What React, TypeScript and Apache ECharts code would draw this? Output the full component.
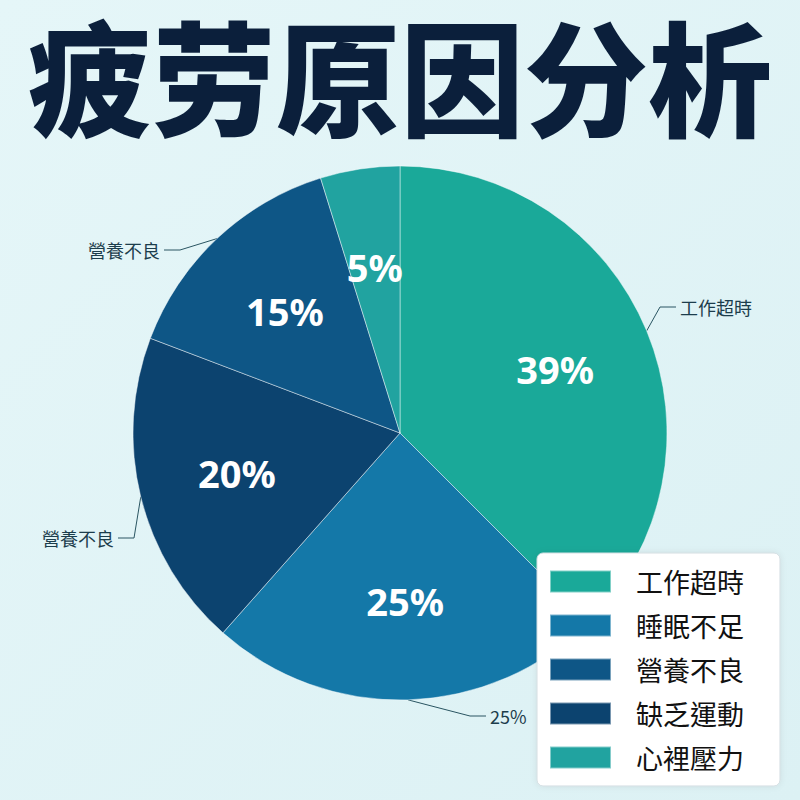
import React, { useEffect, useRef } from 'react';
import * as echarts from 'echarts';

const titleText = '疲劳原因分析';
const categories = ['工作超時', '睡眠不足', '缺乏運動', '營養不良', '心裡壓力'];
const values = [39, 25, 20, 15, 5];
const outerLabels = ['工作超時', '25%', '營養不良', '營養不良', ''];
const legendOrder = ['工作超時', '睡眠不足', '營養不良', '缺乏運動', '心裡壓力'];
const sliceColors = ['#1aa999', '#1478a8', '#0c436f', '#0e5686', '#21a3a0'];

// layout (pixel positions of the outer annotation labels)
const outerPos: any[] = [
  { x: 680, y: 307, align: 'left' },
  { x: 490, y: 716, align: 'left' },
  { x: 114, y: 538, align: 'right' },
  { x: 160, y: 250, align: 'right' },
  null,
];

export default function App() {
  const ref = useRef<HTMLDivElement>(null);
  useEffect(() => {
    if (!ref.current) return;
    const chart = echarts.init(ref.current, null, { renderer: 'svg' });
    const center = [400, 433];
    const R = 267;
    const baseData = categories.map((n, i) => ({ name: n, value: values[i] }));
    chart.setOption({
      animation: false,
      backgroundColor: new echarts.graphic.LinearGradient(0, 0, 1, 1, [
        { offset: 0, color: '#e5f6f8' },
        { offset: 1, color: '#dcf1f4' },
      ]),
      title: {
        text: titleText,
        left: 'center',
        top: 11,
        padding: 0,
        textStyle: {
          fontSize: 124,
          fontWeight: 900,
          color: '#0b1f3b',
          fontFamily: 'Noto Sans CJK SC',
        },
      },
      legend: {
        data: legendOrder,
        orient: 'vertical',
        left: 537,
        top: 553,
        height: 210,
        padding: [15, 36, 15, 12],
        itemWidth: 61,
        itemHeight: 22,
        itemGap: 17,
        icon: 'rect',
        selectedMode: false,
        backgroundColor: '#ffffff',
        borderColor: '#d3dde1',
        borderWidth: 1,
        borderRadius: 6,
        shadowBlur: 6,
        shadowColor: 'rgba(0,0,0,0.08)',
        textStyle: {
          fontSize: 27,
          color: '#111111',
          fontFamily: 'Noto Sans CJK TC',
          padding: [0, 0, 0, 20],
        },
      },
      series: [
        {
          type: 'pie',
          name: 'main',
          center,
          radius: [0, R],
          startAngle: 90,
          clockwise: true,
          avoidLabelOverlap: false,
          silent: true,
          data: baseData.map((d, i) => ({ ...d, itemStyle: { color: sliceColors[i] } })),
          itemStyle: { borderColor: 'rgba(255,255,255,0.45)', borderWidth: 1 },
          label: { show: false },
          labelLine: { show: false },
        },
        {
          type: 'pie',
          name: 'inner',
          center,
          radius: [63, R],
          startAngle: 90,
          clockwise: true,
          avoidLabelOverlap: false,
          silent: true,
          data: baseData,
          itemStyle: { color: 'rgba(0,0,0,0)' },
          label: {
            show: true,
            position: 'inside',
            formatter: (p: any) => `${values[p.dataIndex]}%`,
            color: '#ffffff',
            fontSize: 38,
            fontWeight: 'bold',
            fontFamily: 'Noto Sans',
          },
          labelLine: { show: false },
        },
        {
          type: 'pie',
          name: 'outer',
          center,
          radius: [0, R],
          startAngle: 90,
          clockwise: true,
          avoidLabelOverlap: false,
          silent: true,
          data: baseData.map((d, i) =>
            outerLabels[i]
              ? d
              : { ...d, label: { show: false }, labelLine: { show: false } }
          ),
          itemStyle: { color: 'rgba(0,0,0,0)' },
          label: {
            show: true,
            position: 'outside',
            formatter: (p: any) => outerLabels[p.dataIndex],
            color: '#1c3d4c',
            fontSize: 18,
            fontFamily: 'Noto Sans CJK TC',
          },
          labelLine: {
            show: true,
            length: 10,
            length2: 10,
            lineStyle: { color: '#2a5562', width: 1 },
          },
          labelLayout: (params: any) => {
            const pos = outerPos[params.dataIndex];
            if (!pos) return {};
            const dir = pos.align === 'left' ? -1 : 1;
            const res: any = { x: pos.x, y: pos.y, align: pos.align, verticalAlign: 'middle' };
            const pts = params.labelLinePoints;
            if (pts && pts.length) {
              res.labelLinePoints = [
                pts[0],
                [pos.x + dir * 20, pos.y],
                [pos.x + dir * 4, pos.y],
              ];
            }
            return res;
          },
        },
      ],
    });
    return () => chart.dispose();
  }, []);
  return (
    <div
      ref={ref}
      style={{ position: 'fixed', left: 0, top: 0, width: 800, height: 800 }}
    />
  );
}
